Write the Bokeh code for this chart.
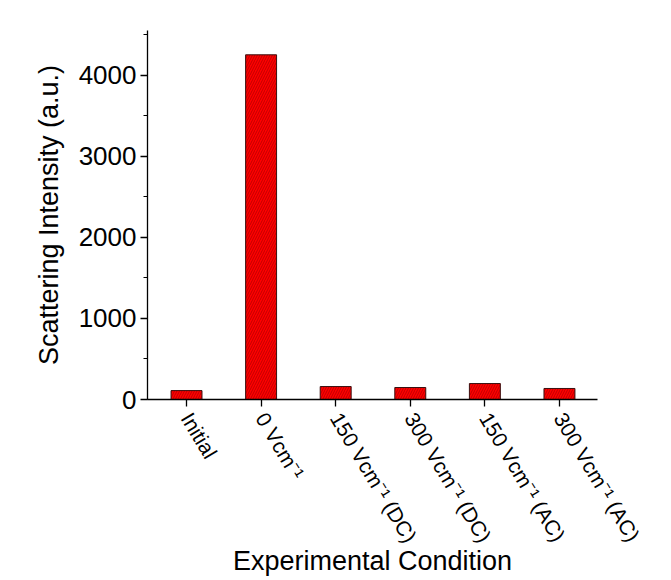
import math
from bokeh.plotting import figure
from bokeh.models import FixedTicker, SingleIntervalTicker, Range1d, ColumnDataSource
from bokeh.embed import file_html
from bokeh.resources import INLINE

categories = ["Initial", "0 Vcm\u207b\u00b9", "150 Vcm\u207b\u00b9 (DC)", "300 Vcm\u207b\u00b9 (DC)",
              "150 Vcm\u207b\u00b9 (AC)", "300 Vcm\u207b\u00b9 (AC)"]
positions = [1, 2, 3, 4, 5, 6]
intensity = [110, 4255, 160, 148, 197, 136]

src = ColumnDataSource(dict(x=positions, top=intensity, name=categories))

p = figure(frame_width=450, frame_height=369, output_backend="svg", toolbar_location=None,
           x_range=Range1d(0.477, 6.51), y_range=Range1d(0, 4555),
           min_border_left=147, min_border_right=74, min_border_top=30, min_border_bottom=181,
           background_fill_color="white", border_fill_color="white")
p.outline_line_color = None
p.xgrid.visible = False
p.ygrid.visible = False

p.vbar(x="x", top="top", width=0.415, bottom=0, source=src,
       fill_color="#ff0000", line_color="#3a1010", line_width=1,
       hatch_pattern="/", hatch_color="#600000", hatch_alpha=0.65, hatch_scale=5, hatch_weight=0.6)

FONT = "Liberation Sans"
xa = p.xaxis[0]
xa.ticker = FixedTicker(ticks=positions)
xa.major_label_overrides = {i: c for i, c in zip(positions, categories)}
xa.major_label_orientation = -math.radians(59)
xa.axis_label = "Experimental Condition"
ya = p.yaxis[0]
ya.ticker = SingleIntervalTicker(interval=1000, num_minor_ticks=2)
ya.axis_label = "Scattering Intensity (a.u.)"

for ax in (xa, ya):
    ax.axis_line_color = "black"
    ax.axis_line_width = 1.3
    ax.major_tick_line_color = "black"
    ax.major_tick_line_width = 1.3
    ax.major_tick_out = 7
    ax.major_tick_in = 0
    ax.minor_tick_out = 4
    ax.minor_tick_in = 0
    ax.minor_tick_line_color = "black"
    ax.major_label_text_font = FONT
    ax.major_label_text_color = "black"
    ax.axis_label_text_font = FONT
    ax.axis_label_text_font_style = "normal"
    ax.axis_label_text_font_size = "27px"
    ax.axis_label_text_color = "black"
xa.minor_tick_line_color = None
xa.major_label_text_font_size = "21px"
ya.major_label_text_font_size = "26px"
xa.major_label_standoff = 8
ya.major_label_standoff = 4
xa.axis_label_standoff = -9
ya.axis_label_standoff = 12

open("out.html", "w").write(file_html(p, INLINE))
